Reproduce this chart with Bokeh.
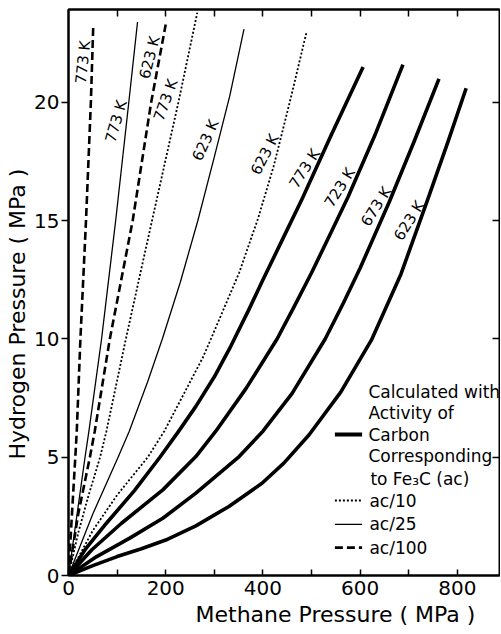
from bokeh.plotting import figure
from bokeh.models import LinearAxis, FixedTicker, Range1d, Title, ColumnDataSource
from bokeh.core.properties import value
from bokeh.embed import file_html
from bokeh.resources import INLINE

# ---- data: methane pressure (MPa) -> hydrogen pressure (MPa)
# activity of carbon corresponding to Fe3C (ac), thick lines
ac_773_x = [0, 34, 78, 136, 188, 225, 262, 300, 334, 370, 400, 440, 480, 540, 606]
ac_773_y = [0, 1.09, 2.21, 3.6, 5.0, 6.05, 7.15, 8.4, 9.7, 11.2, 12.5, 14.2, 15.9, 18.6, 21.5]
ac_723_x = [0, 48, 109, 194, 262, 303, 365, 429, 465, 500, 540, 575, 630, 688]
ac_723_y = [0, 1.09, 2.21, 3.62, 5.03, 6.1, 7.9, 10.0, 11.4, 12.8, 14.5, 16.0, 18.6, 21.6]
ac_673_x = [0, 58, 126, 194, 262, 351, 400, 460, 528, 565, 600, 660, 712, 762]
ac_673_y = [0, 0.8, 1.58, 2.42, 3.48, 5.03, 6.1, 7.7, 10.0, 11.5, 13.0, 15.8, 18.4, 21.0]
ac_623_x = [0, 50, 100, 150, 200, 262, 330, 398, 443, 495, 560, 623, 684, 739, 780, 818]
ac_623_y = [0, 0.42, 0.8, 1.13, 1.5, 2.1, 2.92, 3.9, 4.75, 5.95, 7.75, 9.95, 12.75, 15.9, 18.3, 20.6]
# ac/10, dotted
ac10_773_x = [0, 20, 40, 65, 78, 118, 148, 175, 226, 265]
ac10_773_y = [0, 1.8, 3.3, 5.0, 6.1, 10.0, 12.8, 15.3, 20.0, 23.8]
ac10_623_x = [0, 50, 100, 163, 197, 276, 293, 351, 390, 422, 455, 490]
ac10_623_y = [0, 1.9, 3.4, 5.0, 6.1, 9.2, 10.0, 12.8, 15.1, 17.3, 20.0, 23.0]
# ac/25, thin solid
ac25_773_x = [0, 15, 34, 42, 68, 97, 124, 142]
ac25_773_y = [0, 2.2, 5.0, 6.1, 10.0, 15.0, 20.0, 23.4]
ac25_623_x = [0, 50, 102, 125, 163, 193, 230, 266, 300, 332, 361]
ac25_623_y = [0, 2.6, 5.0, 6.1, 8.2, 10.0, 12.4, 15.0, 17.7, 20.3, 23.1]
# ac/100, dashed
ac100_773_x = [0, 6, 14, 17, 24.5, 36, 46, 51]
ac100_773_y = [0, 2.2, 5.0, 6.1, 10.0, 15.0, 20.0, 23.3]
ac100_623_x = [0, 20, 44, 54, 85, 132, 170, 200]
ac100_623_y = [0, 2.6, 5.0, 6.1, 10.0, 15.0, 20.0, 23.3]

# curve labels
curve_labels = ["773 K", "773 K", "623 K", "773 K", "623 K", "623 K",
                "773 K", "723 K", "673 K", "623 K"]
label_x = [30, 98, 167, 200, 282, 404, 486, 558, 633, 701]
label_y = [21.7, 19.2, 21.9, 20.1, 18.4, 17.8, 17.2, 16.4, 15.6, 15.0]
label_angle = [84, 74, 76, 70, 66, 63, 57, 58, 58, 58]

x_ticks = [0, 200, 400, 600, 800]
x_minor = [100, 300, 500, 700]
top_ticks = [100, 200, 300, 400, 500, 600, 700, 800]
y_ticks = [0, 5, 10, 15, 20]
right_ticks = [5, 10, 15, 20]

legend_lines = ["Calculated with", "Activity of", "Carbon", "Corresponding",
                "to Fe\u2083C (ac)", "ac/10", "ac/25", "ac/100"]

FONT = "DejaVu Sans"
X_END, Y_END = 886.6, 23.93

p = figure(width=500, height=634, output_backend="svg", toolbar_location=None,
           title_location=None,
           x_range=Range1d(0, X_END), y_range=Range1d(0, Y_END),
           min_border_left=65, min_border_right=1, min_border_top=9,
           min_border_bottom=59, x_axis_location=None, y_axis_location=None)
# frame outline supplies the top edge (the right edge sits at the window border)
p.outline_line_color = "black"
p.outline_line_width = 2
p.outline_line_alpha = 1.0
p.xgrid.visible = False
p.ygrid.visible = False
p.background_fill_color = "white"
p.border_fill_color = "white"

bottom = LinearAxis(ticker=FixedTicker(ticks=x_ticks, minor_ticks=x_minor),
                    major_tick_in=6, major_tick_out=0, minor_tick_in=6, minor_tick_out=0,
                    axis_line_width=2, major_tick_line_width=1.5, minor_tick_line_width=1.5,
                    major_label_text_font_size="20px", major_label_text_font=FONT,
                    major_label_text_color="black", major_label_standoff=5)
left = LinearAxis(ticker=FixedTicker(ticks=y_ticks),
                  major_tick_in=0, major_tick_out=7, minor_tick_line_color=None,
                  axis_line_width=2, major_tick_line_width=1.5,
                  major_label_text_font_size="20px", major_label_text_font=FONT,
                  major_label_text_color="black", major_label_standoff=2)
top = LinearAxis(ticker=FixedTicker(ticks=top_ticks),
                 major_tick_in=7, major_tick_out=0, minor_tick_line_color=None,
                 axis_line_width=2, major_tick_line_width=1.5,
                 major_label_text_font_size="10px", major_label_text_color=None,
                 major_label_standoff=0)
right = LinearAxis(ticker=FixedTicker(ticks=right_ticks),
                   major_tick_in=7, major_tick_out=0, minor_tick_line_color=None,
                   axis_line_alpha=0, major_tick_line_width=1.5,
                   major_label_text_font_size="1px", major_label_text_alpha=0,
                   major_label_standoff=0)
p.add_layout(bottom, "below")
p.add_layout(left, "left")
p.add_layout(right, "right")
p.add_layout(top, "above")

p.add_layout(Title(text="Methane Pressure ( MPa )", align="left", offset=127,
                   text_font=FONT, text_font_size="22px", text_font_style="normal",
                   text_color="black", standoff=4), "below")
p.add_layout(Title(text="Hydrogen Pressure ( MPa )", align="left", offset=116,
                   text_font=FONT, text_font_size="22px", text_font_style="normal",
                   text_color="black", standoff=4), "left")

thick = dict(line_color="black", line_width=3.6, line_join="round")
for xs, ys in [(ac_773_x, ac_773_y), (ac_723_x, ac_723_y),
               (ac_673_x, ac_673_y), (ac_623_x, ac_623_y)]:
    p.line(xs, ys, **thick)
for xs, ys in [(ac10_773_x, ac10_773_y), (ac10_623_x, ac10_623_y)]:
    p.line(xs, ys, line_color="black", line_width=1.8, line_dash="2 2")
for xs, ys in [(ac25_773_x, ac25_773_y), (ac25_623_x, ac25_623_y)]:
    p.line(xs, ys, line_color="black", line_width=1.3, line_join="round")
for xs, ys in [(ac100_773_x, ac100_773_y), (ac100_623_x, ac100_623_y)]:
    p.line(xs, ys, line_color="black", line_width=2.6, line_dash="8 4")

src = ColumnDataSource(dict(x=label_x, y=label_y, t=curve_labels, a=label_angle))
p.text(x="x", y="y", text="t", angle="a", angle_units="deg", source=src,
       text_font=value(FONT), text_font_size="15px", text_color="black",
       text_align="center", text_baseline="middle")

# legend block
leg_y = [7.74, 6.89, 5.96, 5.07, 4.10, 3.17, 2.16, 1.18]
leg_x = [617, 617, 617, 617, 621, 619, 619, 619]
p.text(x=leg_x, y=leg_y, text=legend_lines, text_font=value(FONT),
       text_font_size="17px", text_color="black", text_align="left",
       text_baseline="middle")
sx0, sx1 = 548, 604
p.line([sx0, sx1], [leg_y[2], leg_y[2]], line_color="black", line_width=4)
p.line([sx0, sx1], [leg_y[5], leg_y[5]], line_color="black", line_width=1.8, line_dash="2 2")
p.line([sx0, sx1], [leg_y[6], leg_y[6]], line_color="black", line_width=1.3)
p.line([sx0, sx1], [leg_y[7], leg_y[7]], line_color="black", line_width=2.6, line_dash="8 4")

open("out.html", "w").write(file_html(p, INLINE))
